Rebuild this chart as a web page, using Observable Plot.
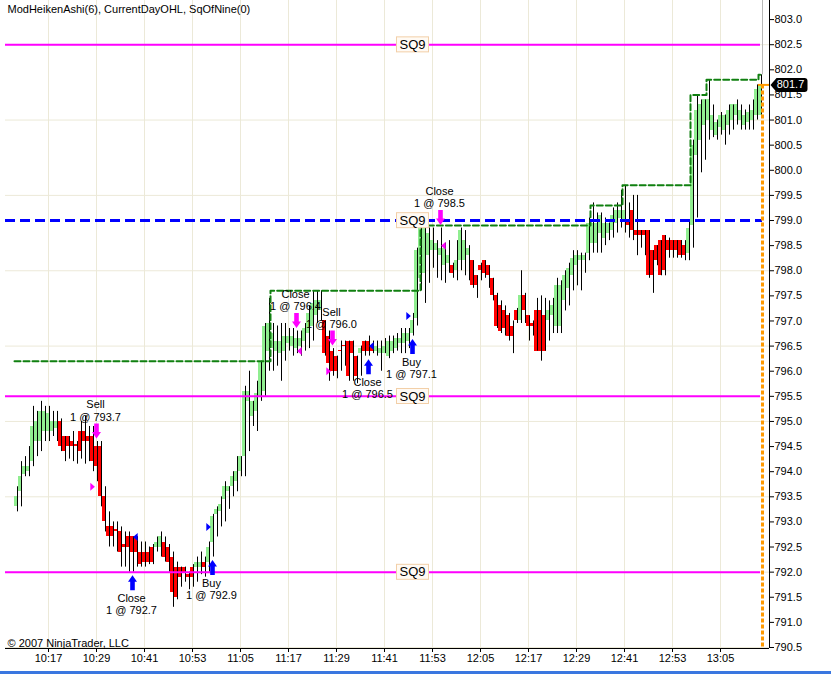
<!DOCTYPE html>
<html>
<head>
<meta charset="utf-8">
<title>ModHeikenAshi(6), CurrentDayOHL, SqOfNine(0)</title>
<script src="https://cdn.jsdelivr.net/npm/d3@7"></script>
<script src="https://cdn.jsdelivr.net/npm/@observablehq/plot@0.6"></script>
<style>
  html, body { margin: 0; padding: 0; background: #fff; }
  #chart svg { display: block; }
  #status-strip { height: 3px; background: #3a77e0; }
</style>
</head>
<body>
<div id="chart"></div>
<div id="status-strip"></div>
<script>
// One-minute Heiken Ashi bars, first bar at 10:09
const firstBarTime = "10:09";

const opens = [
  793.3, 793.6, 793.95, 794.0, 794.2, 794.6, 794.6, 794.8, 794.8, 794.8,
  794.85, 795.0, 794.7, 794.7, 794.6, 794.55, 794.8, 794.8, 794.7, 794.7,
  794.5, 794.5, 793.5, 792.9, 792.9, 792.85, 792.8, 792.55, 792.7, 792.7,
  792.7, 792.4, 792.4, 792.4, 792.5, 792.5, 792.5, 792.6, 792.5, 792.3,
  792.1, 792.1, 792.1, 791.95, 792.1, 792.1, 792.1, 792.2, 792.2, 792.6,
  793.15, 793.2, 793.45, 793.6, 793.7, 793.8, 794.0, 794.3, 795.4, 795.1,
  795.2, 795.5, 795.6, 796.4, 796.45, 796.4, 796.35, 796.4, 796.55, 796.5,
  796.45, 796.5, 796.6, 796.75, 796.9, 797.1, 797.2, 797.0, 796.7, 796.4,
  796.3, 796.42, 796.52, 796.6, 796.6, 796.3, 796.35, 796.6, 796.6, 796.5,
  796.4, 796.35, 796.35, 796.3, 796.4, 796.45, 796.55, 796.55, 796.6, 796.75,
  797.05, 797.85, 797.95, 798.3, 798.4, 798.4, 798.3, 798.1, 798.15, 798.1,
  798.0, 798.2, 798.2, 798.3, 798.2, 797.9, 798.1, 798.2, 798.1, 797.85,
  797.5, 797.3, 797.2, 797.1, 796.9, 797.2, 797.0, 797.5, 797.1, 796.95,
  797.2, 797.2, 797.1, 797.0, 797.1, 796.9, 796.9, 797.4, 797.65, 797.9,
  798.1, 798.2, 798.2, 798.35, 798.55, 798.55, 798.75, 798.65, 798.75, 798.8,
  798.95, 799.05, 799.0, 799.0, 799.2, 798.8, 798.8, 798.8, 798.8, 798.4,
  798.5, 798.6, 798.7, 798.6, 798.6, 798.6, 798.6, 798.5, 798.35, 798.9,
  800.3, 800.6, 800.9, 801.0, 800.8, 800.7, 800.85, 800.8, 800.9, 801.0,
  801.1, 801.0, 800.9, 800.95, 801.0, 801.1, 801.1
];
const closes = [
  793.5, 793.9, 794.1, 794.1, 794.9, 795.0, 795.2, 795.2, 795.15, 795.0,
  795.0, 794.5, 794.4, 794.5, 794.5, 794.5, 794.4, 794.6, 794.6, 794.2,
  794.1, 793.5, 793.0, 792.7, 792.7, 792.8, 792.4, 792.5, 792.5, 792.4,
  792.4, 792.15, 792.2, 792.2, 792.2, 792.6, 792.7, 792.3, 792.2, 791.6,
  791.5, 791.9, 792.0, 791.9, 791.9, 792.2, 792.2, 792.1, 792.5, 793.1,
  793.25, 793.35, 793.7, 793.7, 793.9, 794.0, 794.3, 795.6, 795.6, 795.4,
  795.55, 796.2, 796.9, 796.95, 796.75, 796.6, 796.6, 796.7, 796.7, 796.7,
  796.65, 796.65, 796.85, 797.15, 797.35, 797.4, 797.4, 796.35, 796.15, 796.0,
  796.0, 796.4, 796.5, 795.9, 796.35, 795.9, 796.45, 796.4, 796.4, 796.4,
  796.5, 796.45, 796.5, 796.6, 796.6, 796.65, 796.65, 796.75, 796.75, 797.0,
  798.4, 798.85, 798.85, 798.75, 798.6, 798.55, 798.45, 798.45, 798.3, 797.95,
  798.2, 798.8, 798.6, 798.45, 797.7, 797.7, 798.0, 797.95, 797.9, 797.5,
  796.9, 796.8, 796.85, 796.7, 796.7, 797.0, 797.5, 797.2, 796.9, 796.9,
  796.4, 796.4, 796.4, 797.2, 797.3, 797.7, 797.7, 797.9, 798.05, 798.25,
  798.3, 798.3, 798.3, 798.95, 798.95, 798.95, 799.1, 798.95, 798.95, 799.1,
  799.2, 799.2, 799.2, 798.9, 798.8, 798.7, 798.7, 798.7, 797.9, 797.9,
  798.2, 797.9, 798.0, 798.4, 798.4, 798.4, 798.3, 798.3, 798.85, 800.5,
  801.2, 801.3, 801.4, 801.4, 801.1, 800.95, 801.1, 801.1, 801.2, 801.3,
  801.3, 801.2, 801.1, 801.15, 801.2, 801.6, 801.7
];
const highs = [
  793.7, 794.2, 794.3, 794.5, 795.3, 795.2, 795.4, 795.3, 795.3, 795.2,
  795.2, 795.05, 794.7, 794.7, 794.8, 794.6, 795.0, 795.1, 794.9, 794.9,
  794.6, 794.6, 793.7, 793.2, 793.0, 793.0, 792.9, 792.8, 792.8, 792.7,
  792.7, 792.6, 792.6, 792.5, 792.55, 792.7, 792.8, 792.7, 792.55, 792.4,
  792.2, 792.1, 792.1, 792.0, 792.15, 792.3, 792.4, 792.3, 792.6, 793.15,
  793.3, 793.5, 793.8, 793.7, 794.0, 794.3, 794.3, 795.7, 796.0, 795.4,
  795.8, 796.2, 796.95, 797.45, 796.95, 796.9, 796.95, 796.95, 796.85, 796.85,
  796.8, 796.8, 796.95, 797.3, 797.6, 797.6, 797.6, 797.0, 796.8, 796.45,
  796.3, 796.6, 796.6, 796.6, 796.6, 796.3, 796.5, 796.6, 796.7, 796.6,
  796.6, 796.6, 796.65, 796.7, 796.7, 796.75, 796.85, 796.85, 796.85, 797.15,
  798.45, 798.9, 798.85, 798.85, 798.85, 798.6, 798.85, 798.55, 798.6, 798.15,
  798.6, 798.85, 798.8, 798.5, 798.2, 797.9, 798.15, 798.2, 798.1, 797.85,
  797.55, 797.4, 797.3, 797.15, 797.0, 797.25, 798.0, 797.55, 797.1, 797.0,
  797.45, 797.5, 797.45, 797.4, 797.45, 797.85, 797.8, 798.0, 798.15, 798.4,
  798.4, 798.35, 798.35, 799.05, 799.35, 799.15, 799.15, 799.05, 798.95, 799.25,
  799.35, 799.6, 799.7, 799.35, 799.5, 799.5, 798.8, 798.8, 798.8, 798.4,
  798.5, 798.6, 798.7, 798.65, 798.6, 798.6, 798.6, 798.6, 799.0, 800.6,
  801.5, 801.4, 801.4, 801.8, 801.3, 801.0, 801.15, 801.1, 801.3, 801.3,
  801.4, 801.3, 801.2, 801.3, 801.4, 801.7, 801.9
];
const lows = [
  793.2, 793.3, 793.9, 793.9, 794.1, 794.3, 794.4, 794.6, 794.6, 794.7,
  794.6, 794.4, 794.2, 794.25, 794.2, 794.15, 794.25, 794.15, 794.2, 794.0,
  793.8, 793.3, 792.8, 792.5, 792.5, 792.4, 792.1, 792.1, 792.0, 792.0,
  792.1, 792.1, 792.1, 792.15, 792.15, 792.4, 792.3, 792.2, 792.0, 791.3,
  791.45, 791.7, 791.8, 791.65, 791.7, 791.8, 791.95, 791.9, 792.0, 792.3,
  792.7, 792.9, 793.0, 793.25, 793.5, 793.6, 793.9, 793.9, 794.4, 794.9,
  794.8, 795.4, 795.5, 796.0, 796.0, 796.1, 795.8, 796.2, 796.4, 796.3,
  796.35, 796.3, 796.4, 796.45, 796.6, 796.95, 797.0, 796.3, 795.8, 795.9,
  795.85, 796.0, 796.1, 795.8, 795.8, 795.75, 795.9, 796.3, 796.3, 796.35,
  796.3, 796.0, 796.35, 796.25, 796.35, 796.4, 796.35, 796.35, 796.45, 796.7,
  796.9, 797.6, 797.35, 797.75, 798.05, 797.85, 797.8, 797.75, 797.95, 797.85,
  797.8, 798.0, 797.9, 797.8, 797.65, 797.45, 797.8, 797.85, 797.65, 797.4,
  796.85, 796.75, 796.7, 796.6, 796.35, 796.95, 796.95, 796.95, 796.6, 796.7,
  796.4, 796.2, 796.4, 796.6, 796.75, 796.75, 796.75, 797.2, 797.3, 797.6,
  797.7, 797.6, 797.95, 798.2, 798.35, 798.35, 798.35, 798.5, 798.6, 798.65,
  798.75, 798.85, 798.75, 798.65, 798.6, 798.3, 798.45, 798.3, 797.85, 797.55,
  798.1, 797.9, 797.9, 798.25, 798.25, 798.25, 798.25, 798.2, 798.2, 798.45,
  799.05, 799.95, 800.2, 800.6, 800.65, 800.6, 800.7, 800.5, 800.7, 800.8,
  800.9, 800.8, 800.8, 800.8, 800.8, 801.0, 801.1
];

// Axis ticks and grid
const xTickLabels = ["10:17", "10:29", "10:41", "10:53", "11:05", "11:17", "11:29", "11:41",
                     "11:53", "12:05", "12:17", "12:29", "12:41", "12:53", "13:05"];
const yTicks = [790.5, 791.0, 791.5, 792.0, 792.5, 793.0, 793.5, 794.0, 794.5, 795.0,
                795.5, 796.0, 796.5, 797.0, 797.5, 798.0, 798.5, 799.0, 799.5, 800.0,
                800.5, 801.0, 801.5, 802.0, 802.5, 803.0];
const gridLevels = [790.5, 792.0, 793.5, 795.0, 796.5, 798.0, 799.5, 801.0, 802.5];

// Square-of-nine levels
const sqLevels = [802.5, 799.0, 795.5, 792.0];
const sqDashed = [false, true, false, false];
const sqLabel = "SQ9";
const sqLabelTime = "11:48";

// Current day high (step line)
const dayHighTimes = ["10:08:30", "11:12:30", "11:50", "12:32:30", "12:40:30", "12:57:30", "13:01:30", "13:14:30", "13:15:30"];
const dayHighValues = [796.2, 797.6, 798.9, 799.3, 799.7, 801.5, 801.8, 801.9, 801.9];

// Executions
const tradeTimes = ["10:29", "10:38", "10:58", "11:19", "11:28", "11:37", "11:48", "11:55"];
const tradeActions = ["Sell", "Close", "Buy", "Close", "Sell", "Close", "Buy", "Close"];
const tradeSides = ["sell", "buy", "buy", "sell", "sell", "buy", "buy", "sell"];
const tradeQty = [1, 1, 1, 1, 1, 1, 1, 1];
const tradePrices = [793.7, 792.7, 792.9, 796.4, 796.0, 796.5, 797.1, 798.5];

const title = "ModHeikenAshi(6), CurrentDayOHL, SqOfNine(0)";
const copyright = "© 2007 NinjaTrader, LLC";

// ---- styling ----
const GREEN = "#90ee90", RED = "#ff0000", MAGENTA = "#ff00ff", BLUE = "#0000ff";
const DARKGREEN = "#108010", GRID = "#ece9d8", ORANGE = "#ff9900";

const toMin = s => { const [h, m, sec = 0] = s.split(":").map(Number); return h * 60 + m + sec / 60; };
const fmtTime = v => `${Math.floor(v / 60)}:${String(Math.round(v % 60)).padStart(2, "0")}`;

const t0 = toMin(firstBarTime);
const bars = opens.map((open, i) => ({ t: t0 + i, open, close: closes[i], high: highs[i], low: lows[i] }));
const upBars = bars.filter(d => d.close >= d.open);
const downBars = bars.filter(d => d.close < d.open);
const last = bars[bars.length - 1];

const xDomain = [toMin("10:06:15"), toMin("13:17:15")];
const yDomain = [790.48, 803.38];

const trades = tradeTimes.map((time, i) => {
  const t = toMin(time);
  const bar = bars.find(b => b.t === t);
  const side = tradeSides[i];
  return {
    t, side, action: tradeActions[i], price: tradePrices[i],
    anchor: side === "sell" ? bar.high : bar.low,
    label: `${tradeActions[i]}\n${tradeQty[i]} @ ${tradePrices[i].toFixed(1)}`
  };
});
const sells = trades.filter(d => d.side === "sell");
const buys = trades.filter(d => d.side === "buy");

const sqLines = sqLevels.map((v, i) => ({ v, dashed: sqDashed[i] }));
const dayHigh = dayHighTimes.map((s, i) => ({ t: toMin(s), v: dayHighValues[i] }));

// custom marker shapes
const arrowUp = { draw(c) { c.moveTo(0, -7.5); c.lineTo(4.5, -1); c.lineTo(2.3, -1); c.lineTo(2.3, 7.5);
  c.lineTo(-2.3, 7.5); c.lineTo(-2.3, -1); c.lineTo(-4.5, -1); c.closePath(); } };
const arrowDown = { draw(c) { c.moveTo(0, 7.5); c.lineTo(4.5, 1); c.lineTo(2.3, 1); c.lineTo(2.3, -7.5);
  c.lineTo(-2.3, -7.5); c.lineTo(-2.3, 1); c.lineTo(-4.5, 1); c.closePath(); } };
const triRight = { draw(c) { c.moveTo(-2.2, -4); c.lineTo(2.4, 0); c.lineTo(-2.2, 4); c.closePath(); } };
const triLeft = { draw(c) { c.moveTo(2.2, -4); c.lineTo(-2.4, 0); c.lineTo(2.2, 4); c.closePath(); } };
const priceTag = { draw(c) { c.moveTo(1, 0); c.lineTo(7, -7); c.lineTo(35, -7); c.quadraticCurveTo(38, -7, 38, -4);
  c.lineTo(38, 4); c.quadraticCurveTo(38, 7, 35, 7); c.lineTo(7, 7); c.closePath(); } };

const chart = Plot.plot({
  width: 831,
  height: 671,
  marginLeft: 5,
  marginRight: 62,
  marginTop: 0,
  marginBottom: 23,
  style: { fontFamily: "'Liberation Sans', Arial, sans-serif", fontSize: "11px", background: "#fff", overflow: "visible" },
  x: { domain: xDomain },
  y: { domain: yDomain },
  marks: [
    // grid
    Plot.ruleX(xTickLabels.map(toMin), { stroke: GRID }),
    Plot.ruleY(gridLevels, { stroke: GRID }),

    // Heiken Ashi bodies and wicks
    Plot.rect(upBars, { x1: d => d.t - 0.5, x2: d => d.t + 0.5, y1: "open", y2: "close", fill: GREEN, shapeRendering: "crispEdges" }),
    Plot.rect(downBars, { x1: d => d.t - 0.5, x2: d => d.t + 0.5, y1: "open", y2: "close", fill: RED, shapeRendering: "crispEdges" }),
    Plot.ruleX(bars, { x: d => d.t + 0.25, y1: "low", y2: "high", stroke: "#000", strokeWidth: 1 }),

    // SqOfNine levels
    Plot.ruleY(sqLines.filter(d => !d.dashed), { y: "v", x1: xDomain[0], x2: last.t, stroke: MAGENTA, strokeWidth: 2 }),

    // current day high
    Plot.line(dayHigh, { x: "t", y: "v", curve: "step-after", stroke: DARKGREEN, strokeWidth: 2, strokeDasharray: "6,3" }),

    Plot.ruleY(sqLines.filter(d => d.dashed), { y: "v", x1: xDomain[0], x2: last.t + 0.5, stroke: BLUE, strokeWidth: 3, strokeDasharray: "10,5" }),

    // last bar marker
    Plot.ruleX([last], { x: d => d.t + 0.5, y1: yDomain[1], y2: "high", stroke: "#b8b8b8" }),
    Plot.ruleX([last], { x: d => d.t + 0.5, y1: "close", y2: yDomain[0], stroke: ORANGE, strokeWidth: 3, strokeDasharray: "4,2" }),
    Plot.ruleY([last], { y: "close", x1: d => d.t - 0.5, x2: xDomain[1], stroke: ORANGE, strokeWidth: 2 }),

    // executions: fill triangles
    Plot.dot(trades.filter(d => d.action !== "Close" && d.side === "sell"), { x: "t", y: "price", symbol: triRight, fill: MAGENTA, dx: -4 }),
    Plot.dot(trades.filter(d => d.action !== "Close" && d.side === "buy"), { x: "t", y: "price", symbol: triRight, fill: BLUE, dx: -4 }),
    Plot.dot(trades.filter(d => d.action === "Close" && d.side === "sell"), { x: "t", y: "price", symbol: triLeft, fill: MAGENTA, dx: 3 }),
    Plot.dot(trades.filter(d => d.action === "Close" && d.side === "buy"), { x: "t", y: "price", symbol: triLeft, fill: BLUE, dx: 3 }),

    // signal arrows and labels
    Plot.dot(sells, { x: "t", y: "anchor", symbol: arrowDown, fill: MAGENTA, dy: -10.5 }),
    Plot.dot(buys, { x: "t", y: "anchor", symbol: arrowUp, fill: BLUE, dy: 10.5 }),
    Plot.text(sells, { x: "t", y: "anchor", text: "label", lineAnchor: "bottom", lineHeight: 1.1, dy: -21, dx: -1, fontSize: 11, fill: "#000" }),
    Plot.text(buys, { x: "t", y: "anchor", text: "label", lineAnchor: "top", lineHeight: 1.1, dy: 21, dx: -1, fontSize: 11, fill: "#000" }),

    // SQ9 captions
    Plot.text(sqLines, { x: () => toMin(sqLabelTime), y: "v", text: () => sqLabel, fontSize: 13, fill: "#000" }),

    // axes
    Plot.ruleX([xDomain[1]], { stroke: "#000" }),
    Plot.ruleY([yDomain[0]], { stroke: "#000" }),
    Plot.axisX({ ticks: xTickLabels.map(toMin), tickFormat: fmtTime, tickSize: 4, tickPadding: 2, label: null, fontSize: 11 }),
    Plot.axisY({ anchor: "right", ticks: yTicks, tickFormat: d => d.toFixed(1), tickSize: 4, tickPadding: 1, label: null, fontSize: 11 }),

    // last price tag
    Plot.dot([last], { x: () => xDomain[1], y: "close", symbol: priceTag, fill: "#000" }),
    Plot.text([last], { x: () => xDomain[1], y: "close", text: d => d.close.toFixed(1), fill: "#fff", dx: 21, fontSize: 11 }),

    // header and footer
    Plot.text([title], { text: d => d, frameAnchor: "top-left", textAnchor: "start", lineAnchor: "top", dx: 2, dy: 5, fontSize: 11, fill: "#000" }),
    Plot.text([copyright], { text: d => d, frameAnchor: "bottom-left", textAnchor: "start", lineAnchor: "bottom", dx: 2, dy: -2, fontSize: 11, fill: "#000" })
  ]
});

document.getElementById("chart").append(chart);

// framed boxes behind the SQ9 captions
Array.from(chart.querySelectorAll("text"))
  .filter(node => node.textContent === sqLabel)
  .forEach(node => {
    const b = node.getBBox();
    const box = document.createElementNS("http://www.w3.org/2000/svg", "rect");
    box.setAttribute("x", b.x - 3);
    box.setAttribute("y", b.y);
    box.setAttribute("width", b.width + 6);
    box.setAttribute("height", b.height);
    box.setAttribute("fill", "#fffaf4");
    box.setAttribute("stroke", "#f2cfa8");
    if (node.hasAttribute("transform")) box.setAttribute("transform", node.getAttribute("transform"));
    node.parentNode.insertBefore(box, node);
  });
</script>
</body>
</html>
